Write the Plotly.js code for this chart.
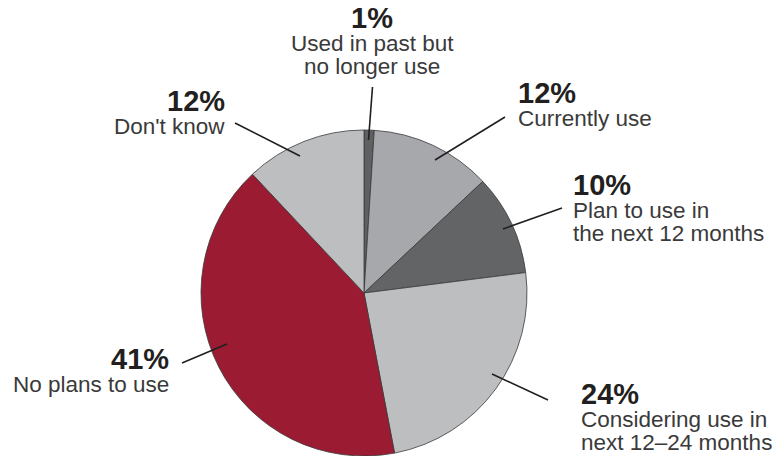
<!DOCTYPE html>
<html><head><meta charset="utf-8">
<script src="https://cdn.plot.ly/plotly-3.0.1.min.js"></script>
<style>html,body{margin:0;padding:0;background:#fff}#chart{width:773px;height:456px}</style>
</head><body><div id="chart"></div>
<script>
const categories = ["Used in past but no longer use","Currently use","Plan to use in the next 12 months","Considering use in next 12–24 months","No plans to use","Don't know"];
const values = [1, 12, 10, 24, 41, 12];
const pctLabels = ["1%","12%","10%","24%","41%","12%"];
const labelLines = [["Used in past but","no longer use"],["Currently use"],["Plan to use in","the next 12 months"],["Considering use in","next 12–24 months"],["No plans to use"],["Don't know"]];
const colors = ["#5f6062","#a6a8ab","#636466","#bcbec0","#9b1b33","#bcbec0"];

// label placement (pixels): x anchor, align, y of percent line
const W = 773, H = 456;
const place = [
  {x:372, anchor:"center", y:18},
  {x:516, anchor:"left", y:93},
  {x:571, anchor:"left", y:185},
  {x:579, anchor:"left", y:394},
  {x:171, anchor:"right", y:359},
  {x:227, anchor:"right", y:101}
];
const leaders = [
  [372.5,87,368.5,140],
  [505,117,435,160],
  [562,208,503,229],
  [492,374,548,400],
  [182,363,227,344],
  [235,123,300,156]
];
const px = x => x / W, py = y => 1 - y / H;

const annotations = [];
place.forEach((p, i) => {
  annotations.push({xref:"paper", yref:"paper", x:px(p.x), y:py(p.y), xanchor:p.anchor, yanchor:"middle",
    text:"<b>"+pctLabels[i]+"</b>", showarrow:false, font:{family:"Liberation Sans, Arial, sans-serif", size:29, color:"#231f20"}});
  labelLines[i].forEach((t, j) => {
    annotations.push({xref:"paper", yref:"paper", x:px(p.x), y:py(p.y + 25 + j*23), xanchor:p.anchor, yanchor:"middle",
      text:t, showarrow:false, font:{family:"Liberation Sans, Arial, sans-serif", size:22.5, color:"#3a3a3a"}});
  });
});
const shapes = leaders.map(l => ({type:"line", xref:"paper", yref:"paper", x0:px(l[0]), y0:py(l[1]), x1:px(l[2]), y1:py(l[3]), line:{color:"#231f20", width:1.6}}));

const cx = 364, cy = 293, r = 163;
Plotly.newPlot("chart", [{
  type:"pie", labels:categories, values:values, sort:false, direction:"clockwise", rotation:0,
  marker:{colors:colors, line:{color:"#3a3a3a", width:0.8}}, textinfo:"none", hoverinfo:"label+percent",
  domain:{x:[(cx-r)/W,(cx+r)/W], y:[1-(cy+r)/H, 1-(cy-r)/H]}
}], {
  width:W, height:H, margin:{l:0,r:0,t:0,b:0}, showlegend:false,
  paper_bgcolor:"#fff", plot_bgcolor:"#fff", annotations:annotations, shapes:shapes
}, {displayModeBar:false, staticPlot:true});
</script></body></html>
